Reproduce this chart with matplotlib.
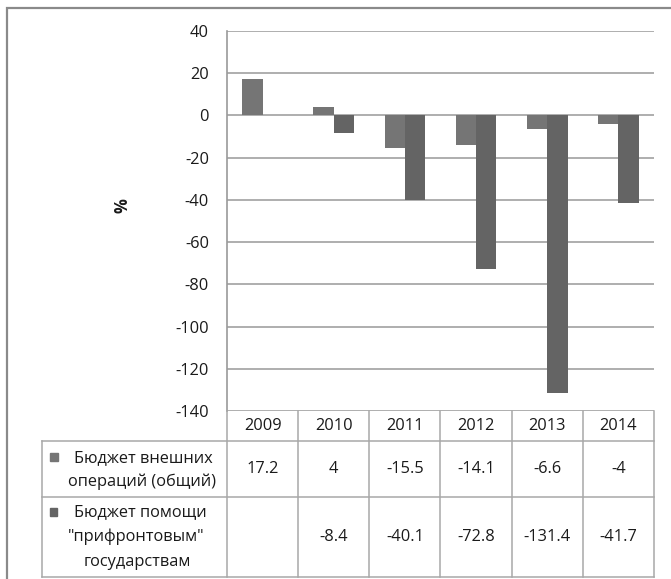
import numpy as np
import matplotlib
matplotlib.use("Agg")
import matplotlib.pyplot as plt
from matplotlib.lines import Line2D
from matplotlib.patches import Rectangle
from matplotlib.transforms import blended_transform_factory

plt.rcParams['font.family'] = ['Open Sans', 'DejaVu Sans']

years = ["2009", "2010", "2011", "2012", "2013", "2014"]
external_ops = [17.2, 4, -15.5, -14.1, -6.6, -4]
frontline_aid = [np.nan, -8.4, -40.1, -72.8, -131.4, -41.7]
series_lines = [
    ["Бюджет внешних", "операций (общий)"],
    ["Бюджет помощи", "\"прифронтовым\"", "государствам"],
]
y_ticks = list(range(40, -141, -20))

W, H = 671, 579
C1, C2 = "#757575", "#646464"
GRID = "#a8a8a8"
TXT = "#1a1a1a"
FS = 11.8

fig = plt.figure(figsize=(W / 100, H / 100), dpi=100)


def fx(px):
    return px / W


def fy(py):
    return 1 - py / H


# chart frame around everything
fig.add_artist(Rectangle((fx(7), fy(640)), fx(720), fy(8) - fy(640),
                         transform=fig.transFigure, fill=False,
                         edgecolor="#8a8a8a", linewidth=1.6))

left, right, top, bottom = 227, 654, 31, 411
ax = fig.add_axes([fx(left), fy(bottom), fx(right - left), fy(top) - fy(bottom)])
ax.set_xlim(-0.5, len(years) - 0.5)
ax.set_ylim(-140, 40)

x = np.arange(len(years))
w = 1 / 3.5
ax.bar(x - w / 2, external_ops, w, color=C1, zorder=3)
ax.bar(x + w / 2, frontline_aid, w, color=C2, zorder=3)

ax.set_yticks(y_ticks)
ax.set_yticklabels([str(t) for t in y_ticks], fontsize=FS, color=TXT)
ax.tick_params(axis="y", length=0, pad=13)
ax.set_xticks([])
ax.yaxis.grid(True, color=GRID, linewidth=1.3, zorder=0)
for s in ["top", "right", "bottom"]:
    ax.spines[s].set_visible(False)
ax.spines["left"].set_color("#9a9a9a")
ax.spines["left"].set_linewidth(1.2)
fig.text(fx(122), fy(206), "%", rotation=90, ha="center", va="center",
         fontsize=12, fontweight="bold", color=TXT)

# data table under the plot
bt = blended_transform_factory(ax.transData, fig.transFigure)
row_edges = [411, 441, 497, 577]
lab_left = 42
lc = "#a8a8a8"
for xb in np.arange(-0.5, len(years), 1.0):
    fig.add_artist(Line2D([xb, xb], [fy(row_edges[0]), fy(row_edges[-1])],
                          transform=bt, color=lc, linewidth=1.1))
for yb in row_edges[1:]:
    fig.add_artist(Line2D([fx(lab_left), fx(right)], [fy(yb), fy(yb)],
                          transform=fig.transFigure, color=lc, linewidth=1.1))
fig.add_artist(Line2D([fx(lab_left), fx(lab_left)], [fy(row_edges[1]), fy(row_edges[-1])],
                      transform=fig.transFigure, color=lc, linewidth=1.1))

for i, yr in enumerate(years):
    fig.text(i, fy(426), yr, transform=bt, ha="center", va="center",
             fontsize=FS, color=TXT)


def fmt(v):
    if np.isnan(v):
        return ""
    return f"{v:g}"


for i in range(len(years)):
    fig.text(i, fy(469), fmt(external_ops[i]), transform=bt, ha="center",
             va="center", fontsize=FS, color=TXT)
    fig.text(i, fy(537), fmt(frontline_aid[i]), transform=bt, ha="center",
             va="center", fontsize=FS, color=TXT)

# row headers with legend keys
for (cx, cy), col in [((54, 456.5), C1), ((53.5, 511.5), C2)]:
    fig.add_artist(Rectangle((fx(cx - 4), fy(cy + 4)), fx(8), fy(0) - fy(8),
                             transform=fig.transFigure, color=col))

label_pos = [
    [(143, 458), (142.5, 482)],
    [(140, 512), (136.5, 537), (137.5, 562)],
]
for lines, poss in zip(series_lines, label_pos):
    for t, (cx, cy) in zip(lines, poss):
        fig.text(fx(cx), fy(cy), t, ha="center", va="center", fontsize=FS,
                 color=TXT)

fig.savefig("out.png", dpi=100)
